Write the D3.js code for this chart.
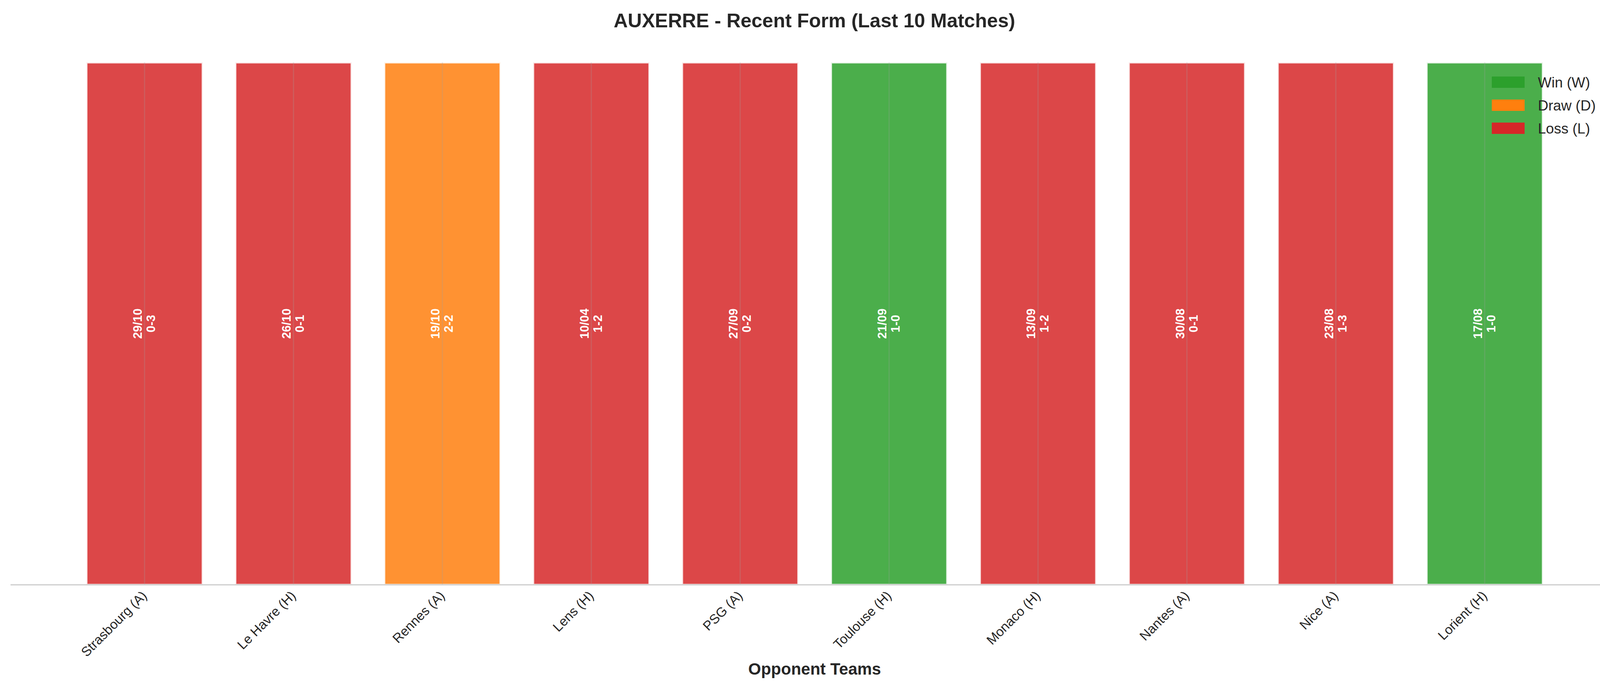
<!DOCTYPE html>
<html>
<head>
<meta charset="utf-8">
<script src="https://cdn.jsdelivr.net/npm/d3@7"></script>
<style>
  html, body { margin: 0; padding: 0; background: #fff; overflow: hidden; }
  svg { display: block; }
  text { font-family: "Liberation Sans", Arial, sans-serif; }
</style>
</head>
<body>
<div id="chart"></div>
<script>
const teams   = ["Strasbourg (A)", "Le Havre (H)", "Rennes (A)", "Lens (H)", "PSG (A)",
                 "Toulouse (H)", "Monaco (H)", "Nantes (A)", "Nice (A)", "Lorient (H)"]
const results = ["L", "L", "D", "L", "L", "W", "L", "L", "L", "W"]
const dates   = ["29/10", "26/10", "19/10", "10/04", "27/09", "21/09", "13/09", "30/08", "23/08", "17/08"]
const scores  = ["0-3", "0-1", "2-2", "1-2", "0-2", "1-0", "1-2", "0-1", "1-3", "1-0"]
const legendKeys   = ["W", "D", "L"]
const legendLabels = ["Win (W)", "Draw (D)", "Loss (L)"]

const colors = { W: "#2ca02c", D: "#ff7f0e", L: "#d62728" }

const W = 4170, H = 1770
const margin = { top: 160, right: 26, bottom: 272, left: 27 }
const width  = W - margin.left - margin.right
const height = H - margin.top - margin.bottom

const svg = d3.select("#chart").append("svg")
  .attr("width", W).attr("height", H)

const g = svg.append("g")
  .attr("transform", "translate(" + margin.left + "," + margin.top + ")")

// bars sit at integer positions
const x = d3.scaleLinear().domain([-0.9, 9.9]).range([0, width])
const y = d3.scaleLinear().domain([0, 1]).range([height, 0])
const bw = x(0.78) - x(0)

g.selectAll("rect.bar")
  .data(results)
  .enter().append("rect")
  .attr("class", "bar")
  .attr("x", (d, i) => x(i) - bw / 2)
  .attr("y", y(1))
  .attr("width", bw)
  .attr("height", y(0) - y(1))
  .attr("fill", d => colors[d])
  .attr("fill-opacity", 0.85)
  .attr("stroke", "#fff")
  .attr("stroke-opacity", 0.85)
  .attr("stroke-width", 5)

// faint vertical grid line through each bar
g.selectAll("line.grid")
  .data(results)
  .enter().append("line")
  .attr("x1", (d, i) => x(i)).attr("x2", (d, i) => x(i))
  .attr("y1", y(1)).attr("y2", y(0))
  .attr("stroke", "#a0a0a0").attr("stroke-opacity", 0.25).attr("stroke-width", 3)

// date + score labels
const lbl = g.selectAll("text.lbl")
  .data(results)
  .enter().append("text")
  .attr("class", "lbl")
  .attr("transform", (d, i) => "translate(" + x(i) + "," + y(0.5) + ") rotate(-90)")
  .attr("text-anchor", "middle")
  .attr("fill", "#fff")
  .attr("font-weight", "bold")
  .attr("font-size", 31)
lbl.append("tspan").attr("x", 0).attr("dy", -7).text((d, i) => dates[i])
lbl.append("tspan").attr("x", 0).attr("dy", 34).text((d, i) => scores[i])

// baseline
g.append("line")
  .attr("x1", 0).attr("x2", width)
  .attr("y1", y(0)).attr("y2", y(0))
  .attr("stroke", "#cccccc").attr("stroke-width", 3)

// x tick labels
g.selectAll("text.tick")
  .data(teams)
  .enter().append("text")
  .attr("class", "tick")
  .attr("transform", (d, i) => "translate(" + (x(i) + 8) + "," + (y(0) + 30) + ") rotate(-45)")
  .attr("text-anchor", "end")
  .attr("font-size", 34)
  .attr("fill", "#262626")
  .text(d => d)

// axis label
svg.append("text")
  .attr("x", margin.left + width / 2).attr("y", 1728)
  .attr("text-anchor", "middle")
  .attr("font-size", 42).attr("font-weight", "bold").attr("fill", "#262626")
  .text("Opponent Teams")

// title
svg.append("text")
  .attr("x", W / 2).attr("y", 70)
  .attr("text-anchor", "middle")
  .attr("font-size", 50).attr("font-weight", "bold").attr("fill", "#262626")
  .text("AUXERRE - Recent Form (Last 10 Matches)")

// legend
const legend = svg.append("g").attr("transform", "translate(3819,196)")
legendKeys.forEach((k, i) => {
  legend.append("rect")
    .attr("x", 0).attr("y", i * 59)
    .attr("width", 84).attr("height", 29)
    .attr("fill", colors[k])
  legend.append("text")
    .attr("x", 118).attr("y", i * 59 + 28)
    .attr("font-size", 37).attr("fill", "#262626")
    .text(legendLabels[i])
})
</script>
</body>
</html>
